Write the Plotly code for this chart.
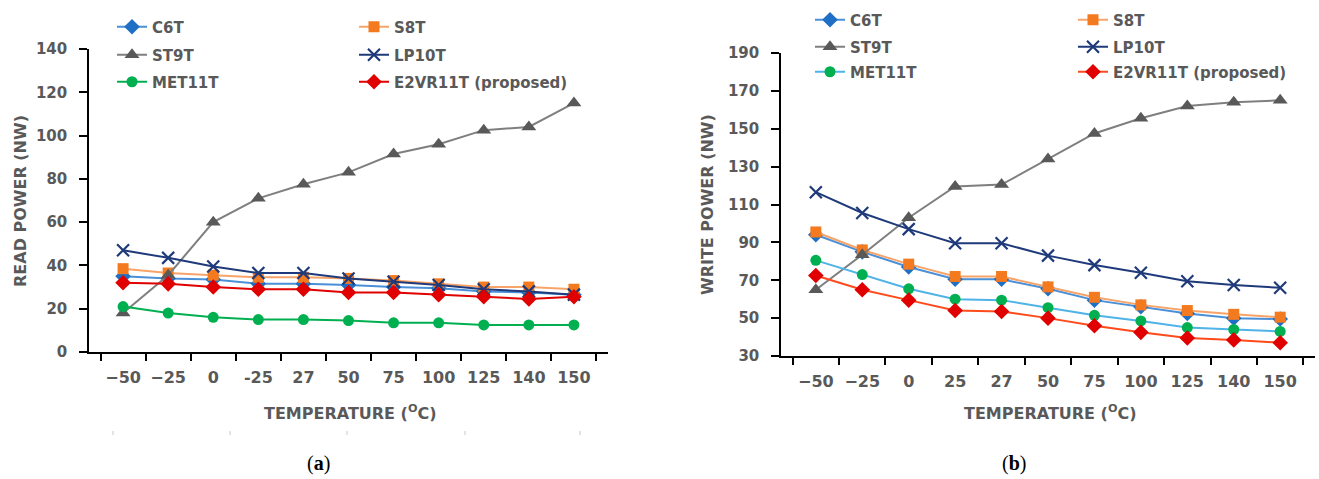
import plotly.graph_objects as go

# ---------------- data ----------------
temps_read = ["−50", "−25", "0", "-25", "27", "50", "75", "100", "125", "140", "150"]
temps_write = ["−50", "−25", "0", "25", "27", "50", "75", "100", "125", "140", "150"]

names = ["C6T", "S8T", "ST9T", "LP10T", "MET11T", "E2VR11T (proposed)"]

read_c6t = [35, 34, 33.5, 31.5, 31.5, 31, 30, 29.5, 28, 27.5, 26.5]
read_s8t = [38.5, 36.5, 35.5, 34.5, 34.5, 34, 33, 31.5, 30, 30, 29]
read_st9t = [18, 35.5, 60, 71, 77.5, 83, 91.5, 96, 102.5, 104, 115]
read_lp10t = [47, 43.5, 39.5, 36.5, 36.5, 34, 32.5, 31, 29, 28, 26.5]
read_met11t = [21, 18, 16, 15, 15, 14.5, 13.5, 13.5, 12.5, 12.5, 12.5]
read_e2vr11t = [32, 31.5, 30, 29, 29, 27.5, 27.5, 26.5, 25.5, 24.5, 25.5]

write_c6t = [94, 85, 77, 70.5, 70.5, 65.5, 59.5, 56, 52.5, 50, 49.5]
write_s8t = [95.5, 86, 78.5, 72, 72, 66.5, 61, 57, 54, 52, 50.5]
write_st9t = [65, 83.5, 103, 119.5, 120.5, 134, 147.5, 155.5, 162, 164, 165]
write_lp10t = [116.5, 105.5, 97, 89.5, 89.5, 83, 78, 74, 69.5, 67.5, 66]
write_met11t = [80.5, 73, 65.5, 60, 59.5, 55.5, 51.5, 48.5, 45, 44, 43]
write_e2vr11t = [72.5, 65, 59.5, 54, 53.5, 50, 46, 42.5, 39.5, 38.5, 37]

read_series = [read_c6t, read_s8t, read_st9t, read_lp10t, read_met11t, read_e2vr11t]
write_series = [write_c6t, write_s8t, write_st9t, write_lp10t, write_met11t, write_e2vr11t]

# ---------------- styles ----------------
W, H = 1319, 479


def px(x):
    return x / W


def py(y):
    return 1 - y / H


symbols = ["diamond", "square", "triangle-up", "x-thin", "circle", "diamond"]
sizes = [12, 11, 13, 12, 11, 12]
marker_colors = ["#1F6FC5", "#F47A20", "#595959", "#1F3A7A", "#00B050", "#E00000"]
line_colors_read = ["#4A90D9", "#F7A46A", "#7F7F7F", "#1F3A7A", "#00B050", "#E00000"]
line_colors_write = ["#4A90D9", "#F7A46A", "#7F7F7F", "#1F3A7A", "#4FB3E8", "#FF4A1C"]
legends_read = ["legend", "legend", "legend2", "legend2", "legend3", "legend3"]
legends_write = ["legend4", "legend4", "legend5", "legend5", "legend6", "legend6"]

fig = go.Figure()

for i, nm in enumerate(names):
    mk = dict(symbol=symbols[i], size=sizes[i], color=marker_colors[i])
    if symbols[i] == "x-thin":
        mk["line"] = dict(color=marker_colors[i], width=2.2)
    fig.add_trace(go.Scatter(
        x=temps_read, y=read_series[i], name=nm, mode="lines+markers",
        line=dict(color=line_colors_read[i], width=2), marker=mk,
        xaxis="x", yaxis="y", legend=legends_read[i]))
for i, nm in enumerate(names):
    mk = dict(symbol=symbols[i], size=sizes[i], color=marker_colors[i])
    if symbols[i] == "x-thin":
        mk["line"] = dict(color=marker_colors[i], width=2.2)
    fig.add_trace(go.Scatter(
        x=temps_write, y=write_series[i], name=nm, mode="lines+markers",
        line=dict(color=line_colors_write[i], width=2), marker=mk,
        xaxis="x2", yaxis="y2", legend=legends_write[i]))

grey = "#595959"
tick_font_y = dict(family="DejaVu Sans", size=15, color=grey, weight="bold")
tick_font_x = dict(family="DejaVu Sans", size=16, color=grey, weight="bold")
leg_font = dict(family="DejaVu Sans", size=15, color=grey, weight="bold")
title_font = dict(family="DejaVu Sans", size=16, color=grey, weight="bold")

xcommon = dict(type="category", showline=True, linecolor="black", linewidth=1.5,
               ticks="outside", ticklen=7, tickwidth=1.5, tickcolor="black",
               tickson="boundaries", showgrid=False, zeroline=False, tickangle=0,
               tickfont=tick_font_x, ticklabelstandoff=10, fixedrange=True,
               automargin=False)
ycommon = dict(showline=True, linecolor="black", linewidth=1.5,
               ticks="outside", ticklen=8, tickwidth=1.5, tickcolor="black",
               showgrid=False, zeroline=False, dtick=20,
               tickfont=tick_font_y, ticklabelstandoff=9, fixedrange=True,
               automargin=False)


def leg(x, y, ew):
    return dict(orientation="h", x=px(x), xanchor="left", y=py(y), yanchor="middle",
                entrywidth=ew, entrywidthmode="pixels", font=leg_font,
                bgcolor="rgba(0,0,0,0)", borderwidth=0, traceorder="normal")


fig.update_layout(
    width=W, height=H,
    margin=dict(l=0, r=0, t=0, b=0, autoexpand=False),
    paper_bgcolor="white", plot_bgcolor="white",
    xaxis=dict(xcommon, domain=[px(89), px(608)], anchor="y"),
    yaxis=dict(ycommon, domain=[py(352), py(49)], range=[0, 140], tick0=0, anchor="x"),
    xaxis2=dict(xcommon, domain=[px(781), px(1315)], anchor="y2"),
    yaxis2=dict(ycommon, domain=[py(356), py(53)], range=[30, 190], tick0=30, anchor="x2"),
    legend=leg(112, 27, 197),
    legend2=leg(112, 55, 197),
    legend3=leg(112, 82, 197),
    legend4=leg(810, 20, 218),
    legend5=leg(810, 47, 218),
    legend6=leg(810, 72, 218),
    showlegend=True,
)

annotations = [
    dict(text="READ POWER (NW)", x=px(20), y=py(201), textangle=-90, font=title_font),
    dict(text="WRITE POWER (NW)", x=px(707), y=py(205), textangle=-90, font=title_font),
    dict(text="TEMPERATURE (<sup>O</sup>C)", x=px(350), y=py(412), font=title_font),
    dict(text="TEMPERATURE (<sup>O</sup>C)", x=px(1050), y=py(412), font=title_font),
    dict(text="(<b>a</b>)", x=px(318), y=py(463),
         font=dict(family="Liberation Serif", size=20, color="black")),
    dict(text="(<b>b</b>)", x=px(1014), y=py(463),
         font=dict(family="Liberation Serif", size=20, color="black")),
]
for a in annotations:
    a.update(xref="paper", yref="paper", showarrow=False, xanchor="center", yanchor="middle")
fig.update_layout(annotations=annotations)

# faint tick marks below the left axis title (as in the source image)
shapes = []
for xp in [113, 230, 347, 465, 580]:
    shapes.append(dict(type="line", xref="paper", yref="paper",
                       x0=px(xp), x1=px(xp), y0=py(431), y1=py(435),
                       line=dict(color="#C8C8C8", width=1)))
fig.update_layout(shapes=shapes)

fig.write_html(
    "out.html",
    config={"displayModeBar": False},
    post_script="document.body.style.margin='0px';document.body.style.overflow='hidden';",
)
